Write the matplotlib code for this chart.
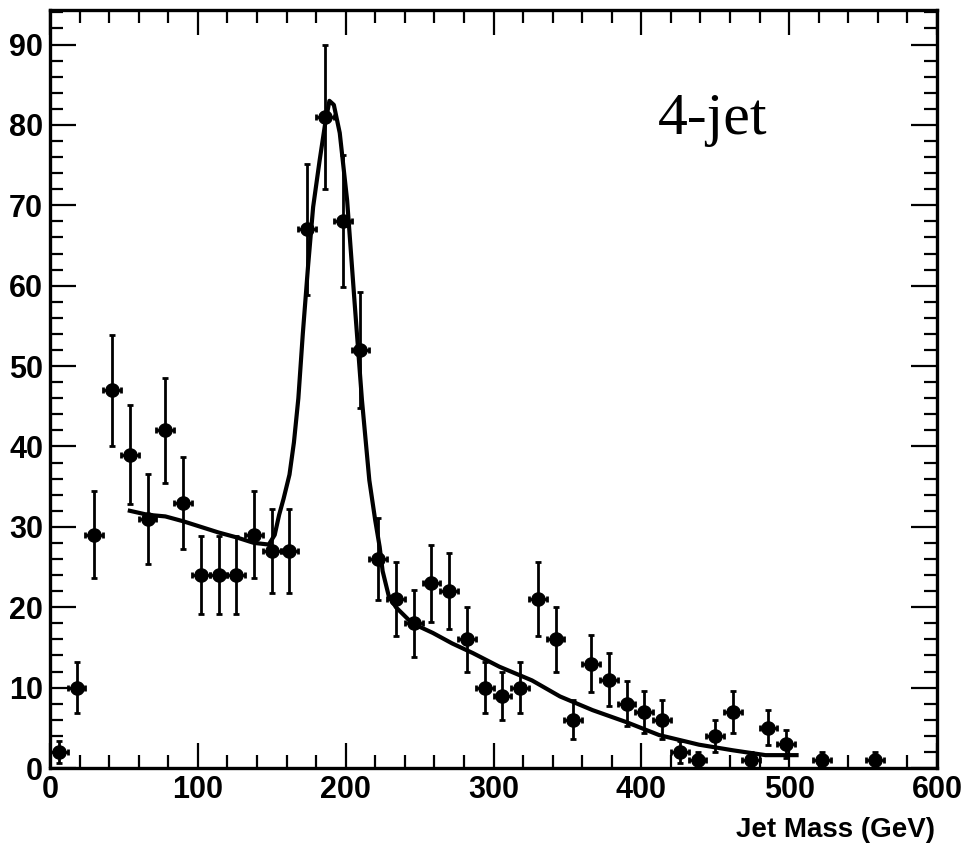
import matplotlib
matplotlib.use("Agg")
import matplotlib.pyplot as plt
from matplotlib.ticker import MultipleLocator

# ---- data ----
mass = [6, 18, 30, 42, 54, 66, 78, 90, 102, 114, 126, 138, 150, 162, 174, 186,
        198, 210, 222, 234, 246, 258, 270, 282, 294, 306, 318, 330, 342, 354,
        366, 378, 390, 402, 414, 426, 438, 450, 462, 474, 486, 498, 522, 558]
counts = [2, 10, 29, 47, 39, 31, 42, 33, 24, 24, 24, 29, 27, 27, 67, 81,
          68, 52, 26, 21, 18, 23, 22, 16, 10, 9, 10, 21, 16, 6,
          13, 11, 8, 7, 6, 2, 1, 4, 7, 1, 5, 3, 1, 1]
count_err = [1.4, 3.2, 5.4, 6.9, 6.2, 5.6, 6.5, 5.7, 4.9, 4.9, 4.9, 5.4, 5.2, 5.2, 8.2, 9.0,
             8.2, 7.2, 5.1, 4.6, 4.2, 4.8, 4.7, 4.0, 3.2, 3.0, 3.2, 4.6, 4.0, 2.4,
             3.6, 3.3, 2.8, 2.6, 2.4, 1.4, 1.0, 2.0, 2.6, 1.0, 2.2, 1.7, 1.0, 1.0]
bin_half = [6] * len(mass)

fit_x = [54, 66, 78, 90, 102, 114, 126, 138, 148, 152, 155, 158, 162, 165, 168, 171,
         174.5, 178, 182.4, 186, 189, 192, 196, 201, 206, 211, 216, 220, 223, 225,
         229, 234, 245, 259, 272, 286, 304, 326, 345, 367, 390, 412, 439, 462, 484, 505]
fit_y = [32, 31.5, 31.3, 30.7, 30, 29.3, 28.7, 28, 27.8, 29, 31.5, 33.5, 36.5, 40.5, 46, 54,
         62.3, 69.8, 75.6, 80, 83, 82.5, 79, 70.6, 58, 45.8, 35.8, 30.8, 27.5, 24.5,
         21.5, 20, 18, 16.8, 15.5, 14.3, 12.6, 10.9, 8.9, 7.2, 5.7, 4.1, 2.9, 2.2, 1.6, 1.6]

xticks = [0, 100, 200, 300, 400, 500, 600]
yticks = [0, 10, 20, 30, 40, 50, 60, 70, 80, 90]

# ---- figure ----
fig = plt.figure(figsize=(9.61, 8.49), dpi=100)
ax = fig.add_axes([50 / 961, 1 - 768 / 849, 887 / 961, 758 / 849])

ax.plot(fit_x, fit_y, color="black", lw=3.0, zorder=2)
ax.errorbar(mass, counts, yerr=count_err, xerr=bin_half, fmt="o", color="black",
            ms=9.5, elinewidth=2.0, capsize=2.5, capthick=2.0, zorder=3)

ax.set_xlim(0, 600)
ax.set_ylim(0, 94.3)
ax.set_xticks(xticks)
ax.set_yticks(yticks)
ax.xaxis.set_minor_locator(MultipleLocator(20))
ax.yaxis.set_minor_locator(MultipleLocator(2))

tickfont = dict(family="Liberation Sans", weight="bold", size=22)
ax.set_xticklabels([str(t) for t in xticks], fontdict=tickfont)
ax.set_yticklabels([str(t) for t in yticks], fontdict=tickfont)

ax.tick_params(which="both", direction="in", top=True, right=True, width=1.6, colors="black")
ax.tick_params(which="major", length=18, pad=5)
ax.tick_params(axis="y", which="major", length=19)
ax.tick_params(which="minor", length=9.5)
for s in ax.spines.values():
    s.set_linewidth(2.4)

fig.text(935 / 961, 1 - 830 / 849, "Jet Mass (GeV)", ha="right", va="center",
         family="Liberation Sans", weight="bold", size=20)
ax.text(448, 80.6, "4-jet", ha="center", va="center", family="Liberation Serif", size=43)

fig.savefig("out.png", dpi=100)
